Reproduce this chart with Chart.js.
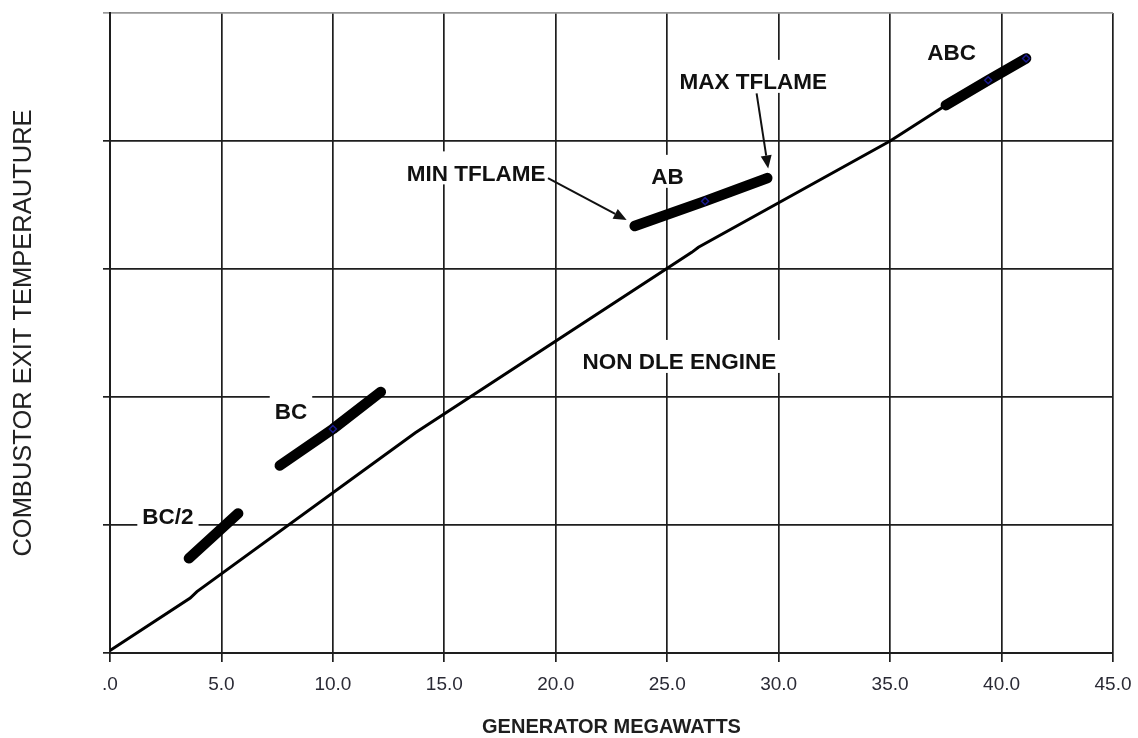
<!DOCTYPE html>
<html>
<head>
<meta charset="utf-8">
<script src="https://cdn.jsdelivr.net/npm/chart.js@4.4.1/dist/chart.umd.min.js"></script>
<style>
  html, body { margin: 0; padding: 0; background: #fff; }
</style>
</head>
<body>
<canvas id="myChart" width="1138" height="738"></canvas>
<script>
// x axis ticks (generator megawatts)
var xTicks = [0, 5, 10, 15, 20, 25, 30, 35, 40, 45];
var yTicks = [0, 1, 2, 3, 4, 5];

// non DLE engine curve
var nonDleX = [0, 3.6, 3.9, 13.7, 26.1, 26.4, 35, 37.5];
var nonDleY = [0.02, 0.43, 0.48, 1.72, 3.13, 3.17, 4.0, 4.28];

// staged operating bands
var bc2X = [3.54, 5.75];
var bc2Y = [0.74, 1.09];
var bcX = [7.62, 10.0, 12.15];
var bcY = [1.465, 1.75, 2.04];
var abX = [23.54, 26.7, 29.49];
var abY = [3.336, 3.53, 3.71];
var abcX = [37.5, 39.4, 41.1];
var abcY = [4.28, 4.475, 4.645];

// small blue markers on the bands
var markerX = [10.0, 26.7, 39.4, 41.1];
var markerY = [1.75, 3.53, 4.475, 4.645];

// text labels, in data units
var labelText = ['BC/2', 'BC', 'MIN TFLAME', 'AB', 'MAX TFLAME', 'ABC', 'NON DLE ENGINE'];
var labelX = [2.60, 8.12, 16.43, 25.01, 28.86, 37.76, 25.55];
var labelY = [1.066, 1.881, 3.747, 3.72, 4.462, 4.689, 2.274];

// arrows: from -> to
var arrowFromX = [19.65, 29.01];
var arrowFromY = [3.71, 4.372];
var arrowToX = [23.18, 29.53];
var arrowToY = [3.383, 3.786];

function pts(xs, ys) {
    return xs.map(function (x, i) { return { x: x, y: ys[i] }; });
}

function band(xs, ys) {
    return {
        data: pts(xs, ys),
        borderColor: '#000',
        borderWidth: 10.5,
        borderCapStyle: 'round',
        borderJoinStyle: 'round',
        pointRadius: 0,
        order: 1
    };
}

var labelPlugin = {
    id: 'labels',
    afterDatasetsDraw: function (chart) {
        var c = chart.ctx;
        var sx = chart.scales.x, sy = chart.scales.y;
        c.save();
        c.font = 'bold 22.5px "Liberation Sans", Arial, sans-serif';
        c.textAlign = 'center';
        c.textBaseline = 'middle';
        labelText.forEach(function (t, i) {
            var px = sx.getPixelForValue(labelX[i]);
            var py = sy.getPixelForValue(labelY[i]);
            var w = c.measureText(t).width;
            c.fillStyle = '#fff';
            c.fillRect(px - w / 2 - 5, py - 22, w + 10, 33);
            c.fillStyle = '#111';
            c.fillText(t, px, py + 1);
        });
        // arrows
        c.strokeStyle = '#111';
        c.fillStyle = '#111';
        c.lineWidth = 2;
        arrowFromX.forEach(function (x0, i) {
            var x1 = sx.getPixelForValue(x0), y1 = sy.getPixelForValue(arrowFromY[i]);
            var x2 = sx.getPixelForValue(arrowToX[i]), y2 = sy.getPixelForValue(arrowToY[i]);
            var a = Math.atan2(y2 - y1, x2 - x1);
            var len = 13, half = 5.5;
            var bx = x2 - len * Math.cos(a), by = y2 - len * Math.sin(a);
            c.beginPath();
            c.moveTo(x1, y1);
            c.lineTo(bx, by);
            c.stroke();
            c.beginPath();
            c.moveTo(x2, y2);
            c.lineTo(bx + half * Math.sin(a), by - half * Math.cos(a));
            c.lineTo(bx - half * Math.sin(a), by + half * Math.cos(a));
            c.closePath();
            c.fill();
        });
        c.restore();
    }
};

var ctx = document.getElementById('myChart');
var myChart = new Chart(ctx, {
    type: 'line',
    data: {
        datasets: [
            {
                data: pts(markerX, markerY),
                showLine: false,
                pointStyle: 'rectRot',
                pointRadius: 3.5,
                pointBorderWidth: 1.5,
                pointBorderColor: '#1a1a90',
                pointBackgroundColor: 'rgba(0,0,0,0)',
                order: 0
            },
            band(bc2X, bc2Y),
            band(bcX, bcY),
            band(abX, abY),
            band(abcX, abcY),
            {
                data: pts(nonDleX, nonDleY),
                borderColor: '#000',
                borderWidth: 3,
                pointRadius: 0,
                order: 2
            }
        ]
    },
    options: {
        responsive: false,
        animation: false,
        layout: { padding: { left: 0, top: 13, right: 25, bottom: 0 } },
        elements: { line: { tension: 0 } },
        plugins: {
            legend: { display: false },
            tooltip: { enabled: false }
        },
        scales: {
            x: {
                type: 'linear',
                min: 0,
                max: 45,
                afterBuildTicks: function (s) {
                    s.ticks = xTicks.map(function (v) { return { value: v }; });
                },
                afterFit: function (s) {
                    s.height = 85;
                    s.paddingLeft = 0;
                    s.paddingRight = 0;
                },
                ticks: {
                    color: '#2a2a35',
                    padding: 11,
                    maxRotation: 0,
                    font: { family: '"Liberation Sans Narrow", "Arial Narrow", "Liberation Sans", Arial', size: 19 },
                    callback: function (v) { return v === 0 ? '.0' : v.toFixed(1); }
                },
                grid: { color: '#1e1e1e', lineWidth: 1.7, tickLength: 9 },
                border: { color: '#1e1e1e', width: 2 },
                title: {
                    display: true,
                    text: 'GENERATOR MEGAWATTS',
                    color: '#1e1e1e',
                    font: { family: '"Liberation Sans", Arial', size: 20, weight: 'bold', lineHeight: 1.1 },
                    padding: { top: 0, bottom: 0 }
                }
            },
            y: {
                type: 'linear',
                min: 0,
                max: 5,
                afterBuildTicks: function (s) {
                    s.ticks = yTicks.map(function (v) { return { value: v }; });
                },
                afterFit: function (s) {
                    s.width = 110;
                    s.paddingTop = 0;
                    s.paddingBottom = 0;
                },
                ticks: { display: false },
                grid: {
                    color: function (c) { return c.tick && c.tick.value === 5 ? '#999' : '#1e1e1e'; },
                    lineWidth: 1.7,
                    tickLength: 7
                },
                border: { color: '#1e1e1e', width: 2 },
                title: {
                    display: true,
                    text: 'COMBUSTOR EXIT TEMPERAUTURE',
                    color: '#222',
                    font: { family: '"Liberation Sans", Arial', size: 25.5 },
                    padding: { top: 9, bottom: 0 }
                }
            }
        }
    },
    plugins: [labelPlugin]
});
</script>
</body>
</html>
